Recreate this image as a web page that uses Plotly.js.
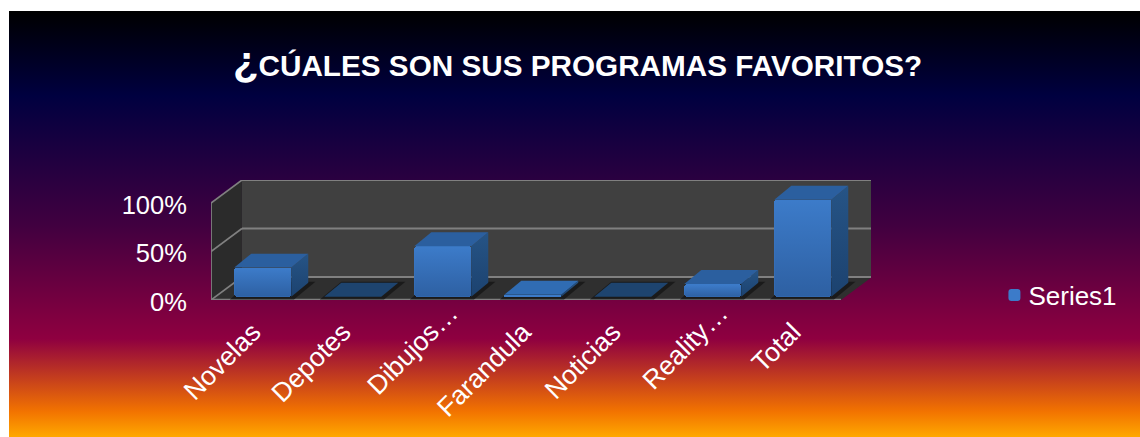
<!DOCTYPE html>
<html><head><meta charset="utf-8">
<script src="https://cdn.plot.ly/plotly-3.0.1.min.js"></script>
<style>
html,body{margin:0;padding:0;background:#fff;overflow:hidden}
#panel{position:absolute;left:9px;top:11px;width:1131px;height:426px;
background:linear-gradient(180deg,#000000 0%,#000040 20%,#400040 50%,#8F0040 77%,#F27300 94%,#FFA800 100%)}
#chart{position:absolute;left:0;top:0;width:1140px;height:437px}
</style></head><body>
<div id="panel"></div><div id="chart"></div>
<script>
const titleText = '<span style="font-size:42px">¿</span>CÚALES SON SUS PROGRAMAS FAVORITOS?';
const categories = ['Novelas','Depotes','Dibujos…','Farandula','Noticias','Reality…','Total'];
const values = [30,0,52,2,0,13,100];
const seriesName = 'Series1';
const yTicks = [0,50,100];

const wallDepthX = 0.344, wallDepthY = 23.7;
const barDepthX = 0.189, barDepthY = 14.4;
const barWidth = 0.633, barShift = 0.075, barBase = 3.4;
const xMin = -0.5, xMax = 6.833, yMax = 123.7;
const tickNudge = -0.033;
const nCat = categories.length;
const idx = categories.map((_, i) => i);

const poly = (pts) => 'M' + pts.map(p => p[0] + ',' + p[1]).join('L') + 'Z';
const line = (x0,y0,x1,y1,w) => ({type:'line',layer:'below',xref:'x',yref:'y',x0,y0,x1,y1,
  line:{color:'#808080',width:w}});
const fillShape = (pts,color) => ({type:'path',layer:'below',xref:'x',yref:'y',path:poly(pts),
  fillcolor:color,line:{width:0}});
const xF0 = xMin, xF1 = xMin + nCat, xB0 = xF0 + wallDepthX, xB1 = xF1 + wallDepthX;

const shapes = [
  fillShape([[xB0,wallDepthY],[xB1,wallDepthY],[xB1,wallDepthY+100],[xB0,wallDepthY+100]],'#404040'),
  fillShape([[xF0,0],[xB0,wallDepthY],[xB0,wallDepthY+100],[xF0,100]],'#2b2b2b'),
  fillShape([[xF0,0],[xF1,0],[xB1,wallDepthY],[xB0,wallDepthY]],'#2f2f2f')
];
yTicks.forEach(t => {
  shapes.push(line(xB0,wallDepthY+t,xB1,wallDepthY+t,2));
  shapes.push(line(xF0,t,xB0,wallDepthY+t,1.6));
});
shapes.push(line(xF0,0,xF0,100,1.8));
shapes.push(line(xF0,0,xF1,0,2.6));
idx.forEach(i => {
  const l = i + barShift - barWidth/2 - 0.05, r = i + barShift + barWidth/2 + 0.03;
  shapes.push(fillShape([[l,0.6],[r,0.6],[r+barDepthX+0.05,barBase+barDepthY+1],[l+barDepthX+0.05,barBase+barDepthY+1]],'rgba(20,20,20,0.75)'));
});

const traces = [{
  type:'bar', name:seriesName, x:idx.map(i=>i+barShift), y:values, base:idx.map(()=>barBase),
  width:barWidth, showlegend:true, hoverinfo:'skip',
  marker:{color:'#3c7bc9',cornerradius:3,line:{width:0}}
}];
const gradFace = (xs,ys,scale) => ({type:'scatter',mode:'none',x:xs,y:ys,fill:'toself',showlegend:false,hoverinfo:'skip',
  fillgradient:{type:'vertical',colorscale:scale}});
const flatFace = (xs,ys,color) => ({type:'scatter',mode:'none',x:xs,y:ys,fill:'toself',fillcolor:color,showlegend:false,hoverinfo:'skip'});
idx.forEach(i => {
  const v = values[i];
  const l = i + barShift - barWidth/2, r = l + barWidth, b = barBase, t = barBase + v;
  if (v > 4) {
    traces.push(gradFace([l,r,r,l,l],[b,b,t-1,t-1,b],[[0,'rgba(0,10,40,0.24)'],[1,'rgba(0,10,40,0)']]));
  }
  if (v > 0) {
    traces.push(gradFace([r,r+barDepthX,r+barDepthX,r,r],[b,b+barDepthY,t+barDepthY,t,b],[[0,'#1c426f'],[1,'#265486']]));
  }
  const topColor = v === 0 ? '#1e446f' : (v < 5 ? '#306cb3' : '#2b5f9f');
  traces.push(flatFace([l,l+barDepthX,r+barDepthX,r,l],[t,t+barDepthY,t+barDepthY,t,t], topColor));
});

const layout = {
  width:1140,height:437,
  paper_bgcolor:'rgba(0,0,0,0)',plot_bgcolor:'rgba(0,0,0,0)',
  margin:{l:211,r:269,t:180,b:137,pad:0},
  font:{family:'"Liberation Sans",Arial,sans-serif',color:'#ffffff',size:24},
  title:{text:titleText,font:{family:'"Liberation Sans",Arial,sans-serif',size:29.7,color:'#ffffff',weight:'bold'},
    xref:'container',yref:'container',x:0.5066,xanchor:'center',y:0.849,yanchor:'middle'},
  xaxis:{type:'linear',range:[xMin,xMax],tickmode:'array',tickvals:idx.map(i=>i+tickNudge),ticktext:categories,tickangle:-45,
    showgrid:false,zeroline:false,showline:false,ticks:'outside',ticklen:5,tickcolor:'rgba(0,0,0,0)',
    tickfont:{size:26.5,color:'#fff'},fixedrange:true},
  yaxis:{range:[0,yMax],tickmode:'array',tickvals:yTicks,ticktext:yTicks.map(t=>t+'%'),
    showgrid:false,zeroline:false,showline:false,ticks:'outside',ticklen:18,tickcolor:'rgba(0,0,0,0)',ticklabelshift:2,
    tickfont:{size:25.5,color:'#fff'},fixedrange:true},
  showlegend:true,
  legend:{x:1.187,xanchor:'left',y:0.04,yanchor:'middle',bgcolor:'rgba(0,0,0,0)',font:{size:26,color:'#fff'},itemwidth:30,itemclick:false,itemdoubleclick:false},
  shapes:shapes,bargap:0,hovermode:false
};
Plotly.newPlot('chart',traces,layout,{displayModeBar:false,staticPlot:true}).then(() => {
  document.querySelectorAll('.xtick text').forEach(t => {
    if (t.textContent.endsWith('…')) {
      t.setAttribute('transform','translate(17,-19) ' + (t.getAttribute('transform') || ''));
    }
  });
  const lt = document.querySelector('.legendtext');
  if (lt) lt.setAttribute('x', parseFloat(lt.getAttribute('x')) - 6);
  document.querySelectorAll('.legendbar path').forEach(p => {
    p.setAttribute('transform', (p.getAttribute('transform') || '') + ' scale(1.2)');
  });
});
</script></body></html>
